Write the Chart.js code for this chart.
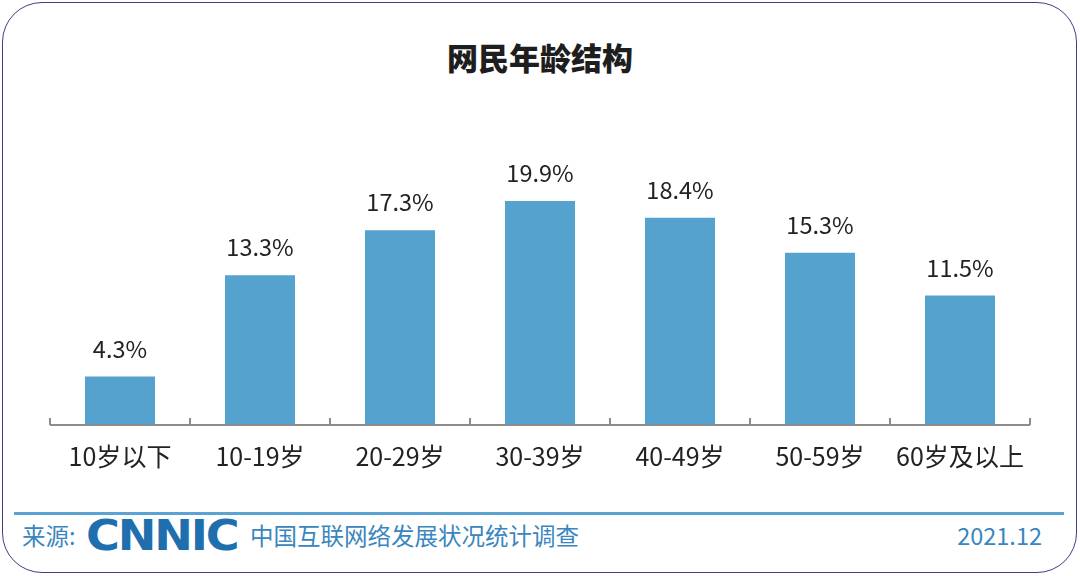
<!DOCTYPE html>
<html>
<head>
<meta charset="utf-8">
<script src="https://cdn.jsdelivr.net/npm/chart.js@4.4.1/dist/chart.umd.min.js"></script>
<style>
  html, body { margin: 0; padding: 0; background: #fff; }
  body { width: 1080px; height: 576px; position: relative; overflow: hidden;
         font-family: "Noto Sans CJK SC", "Noto Sans", sans-serif; }
  .frame { position: absolute; left: 2px; top: 2px; width: 1073px; height: 569px;
           border: 1.5px solid #3b4280; border-radius: 40px; }
  .title { position: absolute; left: 0; width: 1080px; top: 37px; text-align: center;
           font-size: 31px; font-weight: 900; color: #1e1e1e; line-height: 40px; }
  .chart-box { position: absolute; left: 0; top: 120px; width: 1080px; height: 380px; }
  .rule { position: absolute; left: 14px; width: 1050px; top: 512px; height: 3px; background: #5ba3d3; }
  .foot { position: absolute; top: 517px; line-height: 36px; font-size: 23.5px; color: #3a86bf; }
  .logo { position: absolute; left: 86px; top: 512px; font-family: "DejaVu Sans", sans-serif;
          font-weight: bold; font-size: 42px; color: #1f6fae; line-height: 48px;
          transform: scaleX(1.1); transform-origin: left center; letter-spacing: -2px; }
</style>
</head>
<body>
<div class="frame"></div>
<div class="title">网民年龄结构</div>
<div class="chart-box"><canvas id="chart"></canvas></div>
<div class="rule"></div>
<div class="foot" style="left:22px">来源:</div>
<div class="logo">CNNIC</div>
<div class="foot" style="left:250px">中国互联网络发展状况统计调查</div>
<div class="foot" style="right:38px">2021.12</div>
<script>
const categories = ["10岁以下", "10-19岁", "20-29岁", "30-39岁", "40-49岁", "50-59岁", "60岁及以上"];
const shares = [4.3, 13.3, 17.3, 19.9, 18.4, 15.3, 11.5];

// value labels above each bar
const valueLabels = {
  id: "valueLabels",
  afterDatasetsDraw(chart) {
    const ctx = chart.ctx;
    const meta = chart.getDatasetMeta(0);
    ctx.save();
    ctx.font = '23.5px "Noto Sans CJK SC", "Noto Sans", sans-serif';
    ctx.fillStyle = "#222";
    ctx.textAlign = "center";
    ctx.textBaseline = "bottom";
    meta.data.forEach((bar, i) => {
      ctx.fillText(shares[i].toFixed(1) + "%", bar.x, bar.y - 16);
    });
    ctx.restore();
  },
};

// short upward tick marks between categories on the baseline
const boundaryTicks = {
  id: "boundaryTicks",
  afterDraw(chart) {
    const x = chart.scales.x;
    const ctx = chart.ctx;
    const n = categories.length;
    const step = x.width / n;
    ctx.save();
    ctx.strokeStyle = "#8c8c8c";
    ctx.lineWidth = 2;
    ctx.beginPath();
    ctx.moveTo(x.left, x.top);
    ctx.lineTo(x.right, x.top);
    for (let i = 0; i <= n; i++) {
      const px = Math.round(x.left + i * step);
      ctx.moveTo(px, x.top);
      ctx.lineTo(px, x.top - 7);
    }
    ctx.stroke();
    ctx.restore();
  },
};

new Chart(document.getElementById("chart"), {
  type: "bar",
  data: {
    labels: categories,
    datasets: [{
      data: shares,
      backgroundColor: "#56a2cf",
      barPercentage: 0.5,
      categoryPercentage: 1.0,
    }],
  },
  options: {
    responsive: true,
    maintainAspectRatio: false,
    animation: false,
    layout: { padding: { left: 50, right: 50, top: 19, bottom: 13 } },
    plugins: { legend: { display: false }, tooltip: { enabled: false } },
    scales: {
      x: {
        grid: { display: false, drawTicks: false },
        border: { display: false },
        ticks: {
          padding: 16,
          color: "#222",
          font: { size: 25, family: '"Noto Sans CJK SC", "Noto Sans", sans-serif' },
          maxRotation: 0,
        },
      },
      y: { display: false, min: 0, max: 25.4 },
    },
  },
  plugins: [valueLabels, boundaryTicks],
});
</script>
</body>
</html>
